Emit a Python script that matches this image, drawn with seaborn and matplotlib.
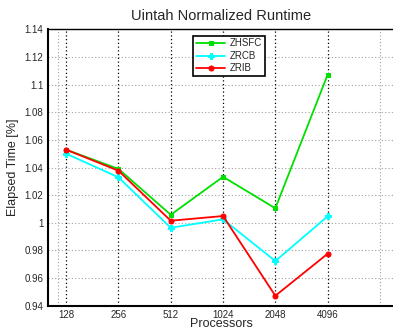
import numpy as np
import pandas as pd
import matplotlib
matplotlib.use("Agg")
import matplotlib.pyplot as plt
import seaborn as sns

processors = [128, 256, 512, 1024, 2048, 4096]
zhsfc = [1.0529, 1.0390, 1.0058, 1.0333, 1.0105, 1.1072]
zrcb = [1.0500, 1.0329, 0.9964, 1.0025, 0.9723, 1.0047]
zrib = [1.0529, 1.0377, 1.0015, 1.0049, 0.9472, 0.9776]
yticks = [0.94, 0.96, 0.98, 1.0, 1.02, 1.04, 1.06, 1.08, 1.1, 1.12, 1.14]
ytick_labels = ["0.94", "0.96", "0.98", "1", "1.02", "1.04", "1.06", "1.08", "1.1", "1.12", "1.14"]

sns.set_style("white")
plt.rcParams['font.family'] = ['Liberation Sans', 'DejaVu Sans']

fig = plt.figure(figsize=(3.93, 3.31), dpi=100)
ax = fig.add_axes([0.121, 0.0764, 0.884, 0.835])

series = [("ZHSFC", zhsfc, "#00e000", "s", 3.0),
          ("ZRCB", zrcb, "#00ffff", "P", 3.8),
          ("ZRIB", zrib, "#ff0000", "o", 3.6)]
for name, vals, col, mk, ms in series:
    df = pd.DataFrame({"Processors": processors, "v": vals})
    sns.lineplot(data=df, x="Processors", y="v", ax=ax, color=col, marker=mk,
                 markersize=ms, markeredgecolor=col, linewidth=1.3, label=name)

ax.set_xscale("log", base=2)
ax.set_xlim(100, 10000)
ax.set_ylim(0.94, 1.14)
ax.set_xticks(processors)
ax.set_xticklabels([str(p) for p in processors], fontsize=7)
ax.minorticks_off()
ax.set_yticks(yticks)
ax.set_yticklabels(ytick_labels, fontsize=7)

# grid
for y in yticks:
    ax.axhline(y, color="#a0a0a0", linestyle=(0, (1, 2)), linewidth=0.8, zorder=0)
for x in processors:
    ax.axvline(x, color="black", linestyle=(0, (1, 2)), linewidth=0.9, zorder=0)
for x in [115.5, 8192]:
    ax.axvline(x, color="#a0a0a0", linestyle=(0, (1, 2)), linewidth=0.8, zorder=0)

for s in ["left", "bottom"]:
    ax.spines[s].set_linewidth(1.5)
    ax.spines[s].set_color("black")
ax.spines["top"].set_linewidth(1.0)
ax.spines["top"].set_color("black")
ax.spines["right"].set_visible(False)
ax.tick_params(axis="both", direction="in", length=3, width=0.8, pad=3)

ax.set_title("Uintah Normalized Runtime", fontsize=10.5, pad=7)
ax.set_xlabel("Processors", fontsize=9, labelpad=-1)
ax.set_ylabel("Elapsed Time [%]", fontsize=9, labelpad=4)

leg = ax.legend(loc="upper left", bbox_to_anchor=(0.405, 0.995), fontsize=7,
                frameon=True, fancybox=False, edgecolor="black", framealpha=1,
                handlelength=3.0, borderpad=0.3, labelspacing=0.25, handletextpad=0.5)
leg.get_frame().set_linewidth(1.2)

fig.savefig("out.png", dpi=100)
